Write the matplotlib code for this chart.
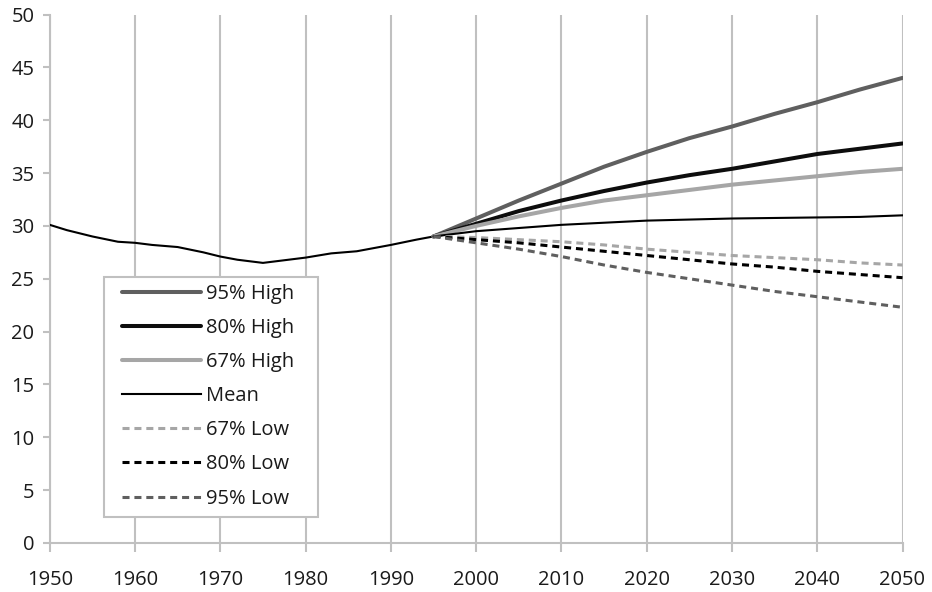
import matplotlib
matplotlib.use("Agg")
import matplotlib.pyplot as plt
from matplotlib.patches import Rectangle

plt.rcParams['font.family'] = ['Open Sans', 'DejaVu Sans']

hist_years = [1950, 1952, 1955, 1958, 1960, 1962, 1965, 1968, 1970, 1972, 1975,
              1977, 1978, 1980, 1983, 1986, 1990, 1993, 1995]
hist_vals = [30.1, 29.6, 29.0, 28.5, 28.4, 28.2, 28.0, 27.5, 27.1, 26.8, 26.5,
             26.7, 26.8, 27.0, 27.4, 27.6, 28.2, 28.7, 29.0]

proj_years = [1995, 2000, 2005, 2010, 2015, 2020, 2025, 2030, 2035, 2040, 2045, 2050]
high95 = [29.0, 30.7, 32.4, 34.0, 35.6, 37.0, 38.3, 39.4, 40.6, 41.7, 42.9, 44.0]
high80 = [29.0, 30.2, 31.4, 32.4, 33.3, 34.1, 34.8, 35.4, 36.1, 36.8, 37.3, 37.8]
high67 = [29.0, 30.0, 30.9, 31.7, 32.4, 32.9, 33.4, 33.9, 34.3, 34.7, 35.1, 35.4]
mean = [29.0, 29.5, 29.8, 30.1, 30.3, 30.5, 30.6, 30.7, 30.75, 30.8, 30.85, 31.0]
low67 = [29.0, 28.9, 28.7, 28.5, 28.2, 27.8, 27.5, 27.2, 27.0, 26.8, 26.5, 26.3]
low80 = [29.0, 28.7, 28.4, 28.0, 27.6, 27.2, 26.8, 26.4, 26.1, 25.7, 25.4, 25.1]
low95 = [29.0, 28.4, 27.8, 27.1, 26.3, 25.6, 25.0, 24.4, 23.8, 23.3, 22.8, 22.3]

x_ticks = list(range(1950, 2051, 10))
y_ticks = list(range(0, 51, 5))

W, H = 932, 592
fig = plt.figure(figsize=(W / 100, H / 100), dpi=100)
ax = fig.add_axes([49.75 / W, 1 - 543 / H, (902.5 - 49.75) / W, (543 - 14.5) / H])

grid_c = '#c0c0c0'
txt_c = '#1a1a1a'
for x in x_ticks:
    ax.axvline(x, color=grid_c, lw=1.5, zorder=0)

ax.plot(hist_years, hist_vals, color='black', lw=1.5, zorder=3)

dash = (0, (2.3, 1.6))
ax.plot(proj_years, high95, color='#5f5f5f', lw=2.9, label='95% High', solid_capstyle='round', zorder=4)
ax.plot(proj_years, high80, color='#0d0d0d', lw=2.9, label='80% High', solid_capstyle='round', zorder=4)
ax.plot(proj_years, high67, color='#a6a6a6', lw=2.9, label='67% High', solid_capstyle='round', zorder=4)
ax.plot(proj_years, mean, color='black', lw=1.5, label='Mean', zorder=4)
ax.plot(proj_years, low67, color='#a6a6a6', lw=2.2, ls=dash, label='67% Low', zorder=4)
ax.plot(proj_years, low80, color='black', lw=2.2, ls=dash, label='80% Low', zorder=4)
ax.plot(proj_years, low95, color='#5f5f5f', lw=2.2, ls=dash, label='95% Low', zorder=4)

ax.set_xlim(1950, 2050)
ax.set_ylim(0, 50)
ax.set_xticks(x_ticks)
ax.set_yticks(y_ticks)
for s in ['top', 'right']:
    ax.spines[s].set_visible(False)
for s in ['bottom', 'left']:
    ax.spines[s].set_color(grid_c)
    ax.spines[s].set_linewidth(1.5)
ax.tick_params(axis='x', colors=grid_c, length=6.5, width=1.5, labelcolor=txt_c, labelsize=14.5, pad=13)
ax.tick_params(axis='y', colors=grid_c, length=5, width=1.5, labelcolor=txt_c, labelsize=14.5, pad=6)

# legend frame
fig.patches.append(Rectangle((104 / W, 1 - 517 / H), 214 / W, 240 / H, transform=fig.transFigure,
                             facecolor='white', edgecolor=grid_c, linewidth=1.5, zorder=5))
leg = fig.legend(*ax.get_legend_handles_labels(), loc='upper left',
                 bbox_to_anchor=(122 / W, 1 - 284 / H), bbox_transform=fig.transFigure,
                 frameon=False, fontsize=14.5, handlelength=3.9, handletextpad=0.25,
                 labelspacing=0.70, borderpad=0, borderaxespad=0)
leg.set_zorder(6)
for t in leg.get_texts():
    t.set_color(txt_c)

fig.savefig('out.png', dpi=100)
